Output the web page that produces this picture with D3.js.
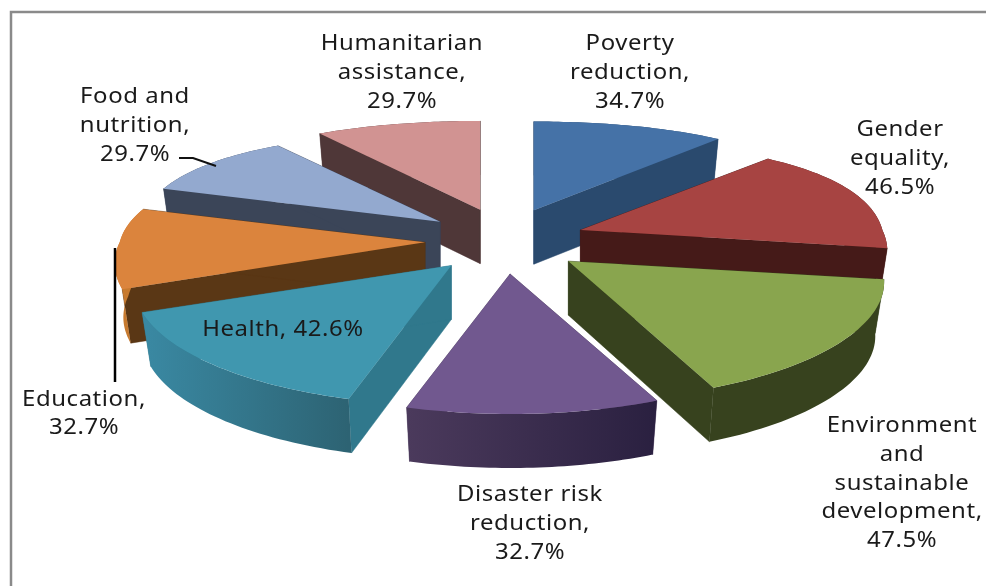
<!DOCTYPE html>
<html><head><meta charset="utf-8">
<script src="https://cdn.jsdelivr.net/npm/d3@7/dist/d3.min.js"></script>
<style>html,body{margin:0;padding:0;background:#fff}svg{display:block}</style>
</head><body><svg id="c" width="986" height="586"></svg>
<script>
const categories = ["Poverty reduction","Gender equality","Environment and sustainable development","Disaster risk reduction","Health","Education","Food and nutrition","Humanitarian assistance"];
const values = [34.7,46.5,47.5,32.7,42.6,32.7,29.7,29.7];
const labelLines = [["Poverty","reduction,","34.7%"],["Gender","equality,","46.5%"],["Environment","and","sustainable","development,","47.5%"],["Disaster risk","reduction,","32.7%"],["Health, 42.6%"],["Education,","32.7%"],["Food and","nutrition,","29.7%"],["Humanitarian","assistance,","29.7%"]];
const topColors = ["#4572a7","#a74442","#89a54e","#71588f","#4097af","#db843d","#93a9cf","#d19392"];
const cutColors = ["#2a4a6e","#451a18","#37421e","#4b3a5c","#30788c","#5a3715","#3b4558","#4f3738"];
const wallFrom  = ["#2a4a6e","#451a18","#37421e","#4b3a5c","#3a89a3","#c77a2f","#3b4558","#4f3738"];
const wallTo    = ["#2a4a6e","#451a18","#37421e","#2a2040","#2d6373","#c77a2f","#3b4558","#4f3738"];
const paintOrder = [7,0,6,1,5,2,4,3];

// layout
const cx=505, cy=241, R=305, tiltY=116.7, depth=54, taper=0.028, explodeX=80, explodeY=33, nearScale=0.03;
const labelCenters = [[630,43],[900,129],[902,425],[530,494],[283,329],[84,398],[135,96],[402,43]];
const linePitch = 28.6;

const svg = d3.select("#c");
const defs = svg.append("defs");
svg.append("path").attr("d","M986 12H11V586").attr("fill","none").attr("stroke","#8a8a8a").attr("stroke-width",2.5);

// sn, cn: unit-circle position of a rim point (0 at the apex); m: scale of the exploded slice
const project = (ox,oy,m,sn,cn,bottom)=>{
  const kx = 1+(cn>0?0.186:0.1)*cn, ky = 1+(cn>0?0.2:0.24)*cn;
  const kz = bottom?1-taper:1;
  return [cx+ox+R*m*sn*kx*kz, cy+oy+tiltY*cn*ky+(bottom?depth:0)];
};
const arcs = d3.pie().sort(null).value(d=>d)(values);
const line = d3.line();
const root = svg.append("g").style("filter","blur(0.5px)");

paintOrder.forEach(i=>{
  const a = arcs[i];
  const mid=(a.startAngle+a.endAngle)/2;
  const ox=explodeX*Math.sin(mid), oy=-explodeY*Math.cos(mid), m=1-nearScale*Math.cos(mid);
  const rim = d3.range(0,41).map(j=>a.startAngle+(a.endAngle-a.startAngle)*j/40);
  const pt=(ang,b)=>project(ox,oy,m,Math.sin(ang),-Math.cos(ang),b);
  const apex=project(ox,oy,m,0,0,false), apexB=project(ox,oy,m,0,0,true);
  const gid="w"+i;
  const s=pt(a.startAngle), e=pt(a.endAngle);
  const g=defs.append("linearGradient").attr("id",gid).attr("gradientUnits","userSpaceOnUse")
    .attr("x1",Math.min(s[0],e[0])).attr("x2",Math.max(s[0],e[0])).attr("y1",0).attr("y2",0);
  g.append("stop").attr("offset",0).attr("stop-color",wallFrom[i]);
  g.append("stop").attr("offset",1).attr("stop-color",wallTo[i]);
  const sl=root.append("g").attr("class","slice");
  [a.startAngle,a.endAngle].forEach(ang=>{
    sl.append("path").attr("fill",cutColors[i]).attr("stroke",cutColors[i]).attr("stroke-width",.5)
      .attr("d",line([apex,pt(ang),pt(ang,true),apexB])+"Z");
  });
  sl.append("path").attr("fill",`url(#${gid})`)
    .attr("d",line(rim.map(t=>pt(t)).concat(rim.slice().reverse().map(t=>pt(t,true))))+"Z");
  sl.append("path").attr("fill",topColors[i])
    .attr("d",line([apex].concat(rim.map(t=>pt(t))))+"Z");
});

// leader lines
root.append("path").attr("d",line([[179,158],[193,158],[216,166]])).attr("fill","none").attr("stroke","#111").attr("stroke-width",2);
root.append("path").attr("d",line([[115,248],[115,382]])).attr("fill","none").attr("stroke","#000").attr("stroke-width",2.5);

// labels
const font='"Noto Sans",sans-serif';
labelLines.forEach((ls,i)=>{
  const t=root.append("text").attr("text-anchor","middle").attr("font-family",font).attr("font-size",21).attr("letter-spacing",0.5).attr("fill","#1a1a1a")
    .attr("transform",`translate(${labelCenters[i][0]},0) scale(1.14,1)`);
  ls.forEach((l,j)=>t.append("tspan").attr("x",0).attr("y",labelCenters[i][1]+7.5+j*linePitch).text(l));
});
</script></body></html>
